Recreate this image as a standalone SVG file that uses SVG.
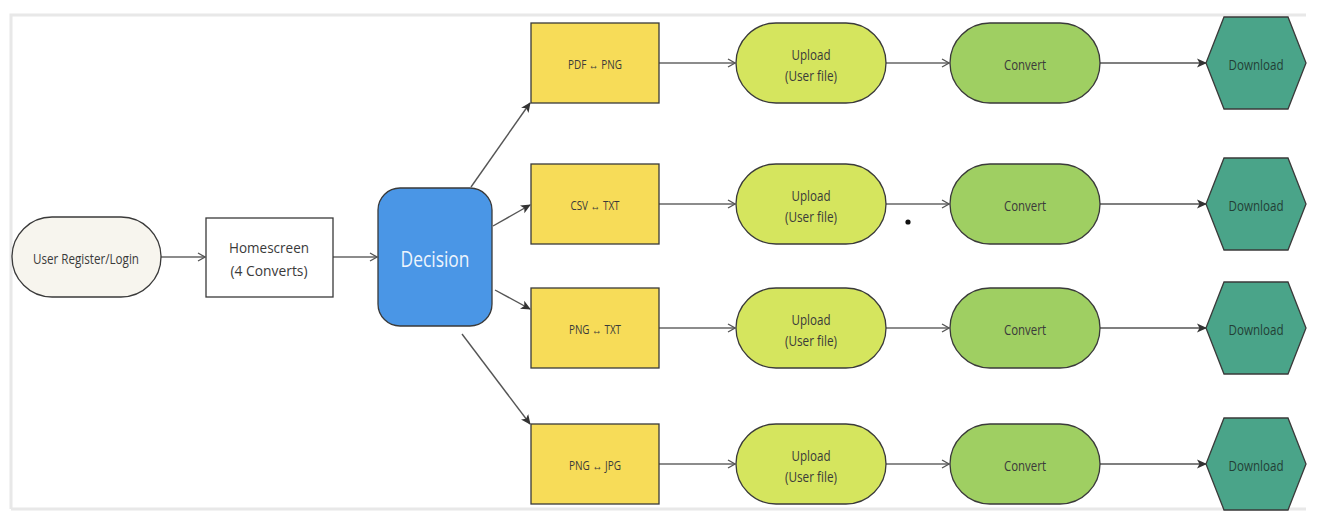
<svg xmlns="http://www.w3.org/2000/svg" width="1318" height="520" viewBox="0 0 1318 520">
<defs>
<marker id="open" viewBox="0 0 10 10" refX="9" refY="5" markerWidth="10" markerHeight="10" markerUnits="userSpaceOnUse" orient="auto">
<path d="M2,1 L9,5 L2,9" fill="none" stroke="#555" stroke-width="1.3"/>
</marker>
<marker id="solid" viewBox="0 0 10 10" refX="9" refY="5" markerWidth="10" markerHeight="10" markerUnits="userSpaceOnUse" orient="auto">
<path d="M0,0.5 L10,5 L0,9.5 L2.5,5 Z" fill="#333"/>
</marker>
<style>
.t{font-family:"Open Sans","Noto Sans","Liberation Sans",sans-serif;fill:#3a3a3a;text-anchor:middle;dominant-baseline:central}
.s{stroke:#3a3a3a;stroke-width:1.3}
.c{fill:none;stroke:#666;stroke-width:1.4}
.cd{fill:none;stroke:#555;stroke-width:1.4}
.y{fill:#f7dc58}
.u{fill:#d5e55e}
.v{fill:#9fcf62}
.d{fill:#4aa489}
</style>
</defs>
<rect width="1318" height="520" fill="#fff"/>
<g id="frame" fill="none" stroke="#e8e8e8" stroke-width="3">
<path d="M11,509 L11,15 L1306,15"/>
<path d="M11,509 L1306,509"/>
</g>
<g id="connectors">
<line class="c" x1="161" y1="257" x2="205" y2="257" marker-end="url(#open)"/>
<line class="c" x1="333" y1="257" x2="377" y2="257" marker-end="url(#open)"/>
<line class="cd" x1="471" y1="187" x2="530" y2="103" marker-end="url(#solid)"/>
<line class="cd" x1="493" y1="226" x2="530" y2="205" marker-end="url(#solid)"/>
<line class="cd" x1="495" y1="290" x2="530" y2="309" marker-end="url(#solid)"/>
<line class="cd" x1="462" y1="334" x2="530" y2="424" marker-end="url(#solid)"/>
<line class="c" x1="659" y1="63" x2="735" y2="63" marker-end="url(#open)"/>
<line class="c" x1="659" y1="204" x2="735" y2="204" marker-end="url(#open)"/>
<line class="c" x1="659" y1="328" x2="735" y2="328" marker-end="url(#open)"/>
<line class="c" x1="659" y1="464" x2="735" y2="464" marker-end="url(#open)"/>
<line class="c" x1="886" y1="63" x2="949" y2="63" marker-end="url(#open)"/>
<line class="c" x1="886" y1="204" x2="949" y2="204" marker-end="url(#open)"/>
<line class="c" x1="886" y1="328" x2="949" y2="328" marker-end="url(#open)"/>
<line class="c" x1="886" y1="464" x2="949" y2="464" marker-end="url(#open)"/>
<line class="cd" x1="1100" y1="63" x2="1206" y2="63" marker-end="url(#solid)"/>
<line class="cd" x1="1100" y1="204" x2="1206" y2="204" marker-end="url(#solid)"/>
<line class="cd" x1="1100" y1="328" x2="1206" y2="328" marker-end="url(#solid)"/>
<line class="cd" x1="1100" y1="464" x2="1206" y2="464" marker-end="url(#solid)"/>
</g>
<circle cx="908" cy="222" r="2.6" fill="#111"/>
<g id="login">
<rect class="s" x="12" y="217" width="149" height="80" rx="40" fill="#f7f5ee"/>
<text class="t" x="86" y="258" font-size="14" textLength="106" lengthAdjust="spacingAndGlyphs">User Register/Login</text>
</g>
<g id="homescreen">
<rect class="s" x="206" y="218" width="127" height="79" fill="#fff"/>
<text class="t" x="269" y="247" font-size="15" textLength="80" lengthAdjust="spacingAndGlyphs">Homescreen</text>
<text class="t" x="269" y="270" font-size="15" textLength="77" lengthAdjust="spacingAndGlyphs">(4 Converts)</text>
</g>
<g id="decision">
<rect class="s" x="378" y="188" width="114" height="138" rx="22" fill="#4a96e6"/>
<text class="t" x="435" y="259" font-size="21" textLength="69" lengthAdjust="spacingAndGlyphs" style="fill:#eef5fd">Decision</text>
</g>
<g id="pdf-png">
<rect class="s y" x="531" y="23" width="128" height="80"/>
<text class="t" x="595" y="64" font-size="12" textLength="54" lengthAdjust="spacingAndGlyphs">PDF ↔ PNG</text>
</g>
<g id="csv-txt">
<rect class="s y" x="531" y="164" width="128" height="80"/>
<text class="t" x="595" y="205" font-size="12" textLength="49" lengthAdjust="spacingAndGlyphs">CSV ↔ TXT</text>
</g>
<g id="png-txt">
<rect class="s y" x="531" y="288" width="128" height="80"/>
<text class="t" x="595" y="329" font-size="12" textLength="52" lengthAdjust="spacingAndGlyphs">PNG ↔ TXT</text>
</g>
<g id="png-jpg">
<rect class="s y" x="531" y="424" width="128" height="80"/>
<text class="t" x="595" y="465" font-size="12" textLength="52" lengthAdjust="spacingAndGlyphs">PNG ↔ JPG</text>
</g>
<g id="upload1">
<rect class="s u" x="736" y="23" width="150" height="80" rx="40"/>
<text class="t" x="811" y="54" font-size="14" textLength="39" lengthAdjust="spacingAndGlyphs">Upload</text>
<text class="t" x="811" y="75" font-size="14" textLength="52" lengthAdjust="spacingAndGlyphs">(User file)</text>
</g>
<g id="upload2">
<rect class="s u" x="736" y="164" width="150" height="80" rx="40"/>
<text class="t" x="811" y="195" font-size="14" textLength="39" lengthAdjust="spacingAndGlyphs">Upload</text>
<text class="t" x="811" y="216" font-size="14" textLength="52" lengthAdjust="spacingAndGlyphs">(User file)</text>
</g>
<g id="upload3">
<rect class="s u" x="736" y="288" width="150" height="80" rx="40"/>
<text class="t" x="811" y="319" font-size="14" textLength="39" lengthAdjust="spacingAndGlyphs">Upload</text>
<text class="t" x="811" y="340" font-size="14" textLength="52" lengthAdjust="spacingAndGlyphs">(User file)</text>
</g>
<g id="upload4">
<rect class="s u" x="736" y="424" width="150" height="80" rx="40"/>
<text class="t" x="811" y="455" font-size="14" textLength="39" lengthAdjust="spacingAndGlyphs">Upload</text>
<text class="t" x="811" y="476" font-size="14" textLength="52" lengthAdjust="spacingAndGlyphs">(User file)</text>
</g>
<g id="convert1">
<rect class="s v" x="950" y="23" width="150" height="80" rx="40"/>
<text class="t" x="1025" y="64" font-size="14" textLength="42" lengthAdjust="spacingAndGlyphs">Convert</text>
</g>
<g id="convert2">
<rect class="s v" x="950" y="164" width="150" height="80" rx="40"/>
<text class="t" x="1025" y="205" font-size="14" textLength="42" lengthAdjust="spacingAndGlyphs">Convert</text>
</g>
<g id="convert3">
<rect class="s v" x="950" y="288" width="150" height="80" rx="40"/>
<text class="t" x="1025" y="329" font-size="14" textLength="42" lengthAdjust="spacingAndGlyphs">Convert</text>
</g>
<g id="convert4">
<rect class="s v" x="950" y="424" width="150" height="80" rx="40"/>
<text class="t" x="1025" y="465" font-size="14" textLength="42" lengthAdjust="spacingAndGlyphs">Convert</text>
</g>
<g id="download1">
<polygon class="s d" points="1206,63 1224,17 1288,17 1306,63 1288,109 1224,109"/>
<text class="t" x="1256" y="64" font-size="14" textLength="55" lengthAdjust="spacingAndGlyphs" style="fill:#233f36">Download</text>
</g>
<g id="download2">
<polygon class="s d" points="1206,204 1224,158 1288,158 1306,204 1288,250 1224,250"/>
<text class="t" x="1256" y="205" font-size="14" textLength="55" lengthAdjust="spacingAndGlyphs" style="fill:#233f36">Download</text>
</g>
<g id="download3">
<polygon class="s d" points="1206,328 1224,282 1288,282 1306,328 1288,374 1224,374"/>
<text class="t" x="1256" y="329" font-size="14" textLength="55" lengthAdjust="spacingAndGlyphs" style="fill:#233f36">Download</text>
</g>
<g id="download4">
<polygon class="s d" points="1206,464 1224,418 1288,418 1306,464 1288,510 1224,510"/>
<text class="t" x="1256" y="465" font-size="14" textLength="55" lengthAdjust="spacingAndGlyphs" style="fill:#233f36">Download</text>
</g>
</svg>
